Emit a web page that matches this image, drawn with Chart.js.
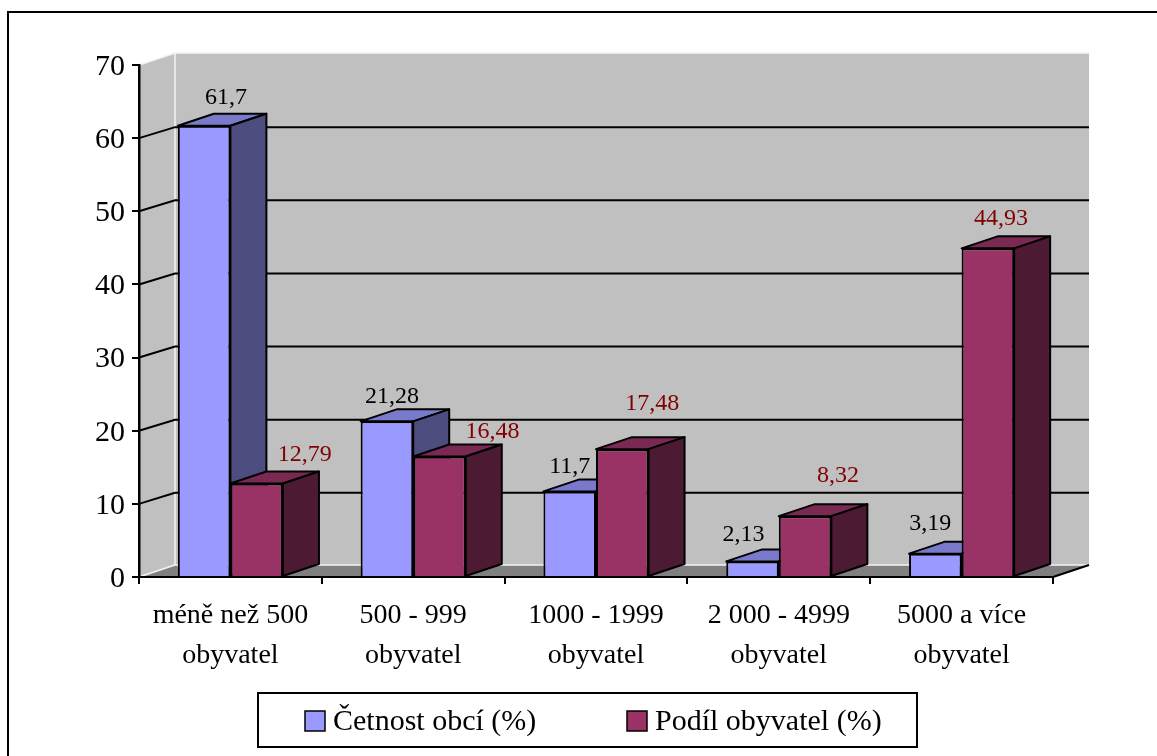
<!DOCTYPE html>
<html>
<head>
<meta charset="utf-8">
<style>
  html, body { margin: 0; padding: 0; background: #fff; overflow: hidden; }
  canvas { display: block; }
</style>
<script src="https://cdn.jsdelivr.net/npm/chart.js@4/dist/chart.umd.min.js"></script>
</head>
<body>
<canvas id="chart" width="1157" height="756"></canvas>
<script>
// chart values
const categories = [
  ['méně než 500', 'obyvatel'],
  ['500 - 999', 'obyvatel'],
  ['1000 - 1999', 'obyvatel'],
  ['2 000 - 4999', 'obyvatel'],
  ['5000 a více', 'obyvatel']
]
const seriesNames = ['Četnost obcí (%)', 'Podíl obyvatel (%)']
const cetnost = [61.7, 21.28, 11.7, 2.13, 3.19]
const podil = [12.79, 16.48, 17.48, 8.32, 44.93]
const cetnostLabels = ['61,7', '21,28', '11,7', '2,13', '3,19']
const podilLabels = ['12,79', '16,48', '17,48', '8,32', '44,93']

const FONT = '"Liberation Serif", "Times New Roman", serif'
const DEPTH_X = 36
const DEPTH_Y = 12

// colours per series: front, top and side of the bar, label text
const looks = [
  { front: '#9999ff', top: '#7a7acc', side: '#4d4d80', text: '#000000' },
  { front: '#993366', top: '#7a2952', side: '#4d1a33', text: '#800000' }
]

// labels were moved by hand in the original, so they sit at their own offsets from the bar
const labelNudge = [
  [[4, -26], [-13, -23], [-18, -23], [-27, -25], [-23, -28]],
  [[30, -27], [35, -23], [12, -43], [15, -38], [-5, -28]]
]

function poly (ctx, pts, fill) {
  ctx.beginPath()
  ctx.moveTo(pts[0][0], pts[0][1])
  pts.slice(1).forEach(p => ctx.lineTo(p[0], p[1]))
  ctx.closePath()
  ctx.fillStyle = fill
  ctx.fill()
}

// frame, walls, floor and gridlines of the 3d box
const boxPlugin = {
  id: 'box3d',
  beforeDraw (chart) {
    const ctx = chart.ctx
    const { left, right, top, bottom } = chart.chartArea
    ctx.save()

    ctx.strokeStyle = '#000'
    ctx.lineWidth = 2
    ctx.strokeRect(8, 12, 1200, 800)

    // side wall and back wall
    poly(ctx, [[left, top], [left + DEPTH_X, top - DEPTH_Y], [left + DEPTH_X, bottom - DEPTH_Y], [left, bottom]], '#c0c0c0')
    poly(ctx, [[left + DEPTH_X, top - DEPTH_Y], [right + DEPTH_X, top - DEPTH_Y], [right + DEPTH_X, bottom - DEPTH_Y], [left + DEPTH_X, bottom - DEPTH_Y]], '#c0c0c0')
    // floor
    poly(ctx, [[left, bottom], [left + DEPTH_X, bottom - DEPTH_Y], [right + DEPTH_X, bottom - DEPTH_Y], [right, bottom]], '#808080')

    // white edges of the walls
    ctx.strokeStyle = '#f4f4f4'
    ctx.lineWidth = 1.5
    ctx.beginPath()
    ctx.moveTo(left, top)
    ctx.lineTo(left + DEPTH_X, top - DEPTH_Y)
    ctx.lineTo(right + DEPTH_X, top - DEPTH_Y)
    ctx.moveTo(left + DEPTH_X, top - DEPTH_Y)
    ctx.lineTo(left + DEPTH_X, bottom - DEPTH_Y)
    ctx.lineTo(right + DEPTH_X, bottom - DEPTH_Y)
    ctx.moveTo(left, bottom)
    ctx.lineTo(left + DEPTH_X, bottom - DEPTH_Y)
    ctx.stroke()

    // gridlines run along the side wall and then the back wall
    const yScale = chart.scales.y
    ctx.strokeStyle = '#000'
    ctx.lineWidth = 2
    yScale.ticks.forEach(t => {
      if (t.value === yScale.min || t.value === yScale.max) return
      const y = yScale.getPixelForValue(t.value)
      ctx.beginPath()
      ctx.moveTo(left, y)
      ctx.lineTo(left + DEPTH_X, y - DEPTH_Y + 1)
      ctx.lineTo(right + DEPTH_X, y - DEPTH_Y + 1)
      ctx.stroke()
    })

    // floor edge sticking out past the last tick
    ctx.beginPath()
    ctx.moveTo(right, bottom)
    ctx.lineTo(right + DEPTH_X, bottom - DEPTH_Y)
    ctx.stroke()

    ctx.restore()
  },

  // top and side faces of the bars, the library draws the front ones over them
  beforeDatasetsDraw (chart) {
    const ctx = chart.ctx
    ctx.save()
    ctx.strokeStyle = '#000'
    ctx.lineWidth = 2
    ctx.lineJoin = 'round'
    chart.data.labels.forEach((_, j) => {
      chart.data.datasets.forEach((ds, i) => {
        const bar = chart.getDatasetMeta(i).data[j]
        const x0 = bar.x - bar.width / 2
        const x1 = bar.x + bar.width / 2
        const top = [[x0, bar.y], [x0 + DEPTH_X, bar.y - DEPTH_Y], [x1 + DEPTH_X, bar.y - DEPTH_Y], [x1, bar.y]]
        const side = [[x1, bar.y], [x1 + DEPTH_X, bar.y - DEPTH_Y], [x1 + DEPTH_X, bar.base - DEPTH_Y], [x1, bar.base]]
        poly(ctx, top, looks[i].top)
        ctx.stroke()
        poly(ctx, side, looks[i].side)
        ctx.stroke()
      })
    })
    ctx.restore()
  },

  // value labels and the legend box
  afterDraw (chart) {
    const ctx = chart.ctx
    ctx.save()
    ctx.textAlign = 'center'
    ctx.textBaseline = 'middle'
    ctx.font = '24px ' + FONT
    const allLabels = [cetnostLabels, podilLabels]
    allLabels.forEach((labels, i) => {
      ctx.fillStyle = looks[i].text
      labels.forEach((text, j) => {
        const bar = chart.getDatasetMeta(i).data[j]
        const x = bar.x + DEPTH_X / 2 + labelNudge[i][j][0]
        const y = bar.y - DEPTH_Y + labelNudge[i][j][1] + 10
        ctx.fillText(text, x, y)
      })
    })

    ctx.strokeStyle = '#000'
    ctx.lineWidth = 2
    ctx.strokeRect(258, 693, 659, 54)
    ctx.font = '30px ' + FONT
    ctx.textAlign = 'left'
    ctx.lineWidth = 1.5
    const swatchX = [305, 627]
    chart.data.datasets.forEach((ds, i) => {
      ctx.fillStyle = looks[i].front
      ctx.fillRect(swatchX[i], 711, 20, 20)
      ctx.strokeRect(swatchX[i], 711, 20, 20)
      ctx.fillStyle = '#000'
      ctx.fillText(ds.label, swatchX[i] + 28, 722)
    })
    ctx.restore()
  }
}

new Chart(document.getElementById('chart'), {
  type: 'bar',
  data: {
    labels: categories,
    datasets: [
      { label: seriesNames[0], data: cetnost, backgroundColor: looks[0].front, borderColor: '#000', borderWidth: 2 },
      { label: seriesNames[1], data: podil, backgroundColor: looks[1].front, borderColor: '#000', borderWidth: 2 }
    ]
  },
  options: {
    responsive: false,
    animation: false,
    layout: { padding: { left: 0, right: 104, top: 65, bottom: 0 } },
    datasets: { bar: { categoryPercentage: 0.575, barPercentage: 1 } },
    plugins: { legend: { display: false }, tooltip: { enabled: false } },
    scales: {
      x: {
        afterFit: s => { s.height = 179 },
        border: { color: '#000', width: 2 },
        grid: { drawOnChartArea: false, color: '#000', lineWidth: 2, tickLength: 7 },
        ticks: {
          color: '#000',
          maxRotation: 0,
          autoSkip: false,
          padding: 12,
          font: { family: FONT, size: 28, lineHeight: 1.43 }
        }
      },
      y: {
        min: 0,
        max: 70,
        afterFit: s => { s.width = 139 },
        border: { color: '#000', width: 2.5 },
        grid: { drawOnChartArea: false, color: '#000', lineWidth: 2, tickLength: 7 },
        ticks: {
          stepSize: 10,
          color: '#000',
          padding: 7,
          labelOffset: 2,
          font: { family: FONT, size: 30 }
        }
      }
    }
  },
  plugins: [boxPlugin]
})
</script>
</body>
</html>
